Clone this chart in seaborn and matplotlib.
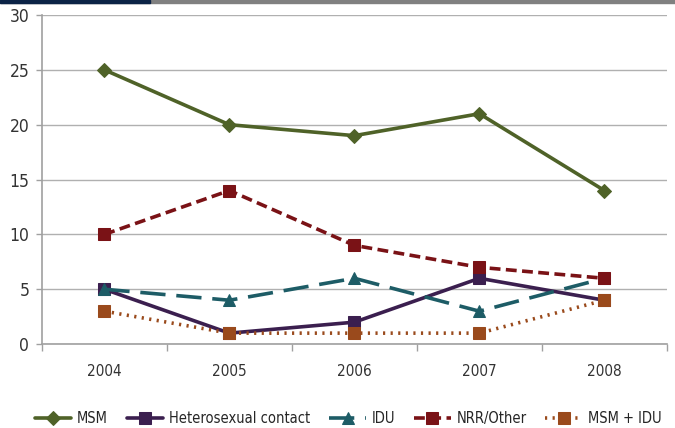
import seaborn as sns
import matplotlib.pyplot as plt
import matplotlib.patches as mpatches
import pandas as pd

years = ['2004', '2005', '2006', '2007', '2008']
msm = [25, 20, 19, 21, 14]
hetero = [5, 1, 2, 6, 4]
idu = [5, 4, 6, 3, 6]
nrr_other = [10, 14, 9, 7, 6]
msm_idu = [3, 1, 1, 1, 4]

series = [
    ('MSM', msm, '#4f6228', '-', 'D'),
    ('Heterosexual contact', hetero, '#3b1f4f', '-', 's'),
    ('IDU', idu, '#1d5c66', (0, (7, 3)), '^'),
    ('NRR/Other', nrr_other, '#7a1216', (0, (3, 1.5)), 's'),
    ('MSM + IDU', msm_idu, '#9a4a1c', (0, (0.6, 1.5)), 's'),
]


def main():
    sns.set_style('white')
    plt.rcParams['font.family'] = ['DejaVu Sans']
    plt.rcParams['font.stretch'] = 'condensed'
    fig = plt.figure(figsize=(6.75, 4.28), dpi=100)
    ax = fig.add_axes([0.062, 0.196, 0.926, 0.769])

    # top banner
    fig.patches.append(mpatches.Rectangle((0, 0.992), 1, 0.008, transform=fig.transFigure,
                                          color='#808080', zorder=0))
    fig.patches.append(mpatches.Rectangle((0, 0.992), 0.222, 0.008, transform=fig.transFigure,
                                          color='#0b2346', zorder=1))

    for name, vals, color, ls, mk in series:
        df = pd.DataFrame({'x': range(len(years)), 'y': vals})
        sns.lineplot(data=df, x='x', y='y', ax=ax, color=color, linestyle=ls, linewidth=2.6,
                     marker=mk, markersize=8 if mk != 'D' else 7, markeredgecolor=color,
                     markerfacecolor=color, label=name)

    ax.set_xlim(-0.5, len(years) - 0.5)
    ax.set_ylim(0, 30)
    ax.set_yticks(range(0, 31, 5))
    ax.set_xticks(range(len(years)))
    ax.set_xticklabels(years)
    ax.set_xticks([i - 0.5 for i in range(len(years) + 1)], minor=True)
    ax.tick_params(axis='x', which='major', bottom=False, length=0, pad=14, labelsize=11,
                   labelcolor='#333333')
    ax.tick_params(axis='x', which='minor', bottom=True, length=5, width=1, color='#a0a0a0',
                   direction='out')
    ax.tick_params(axis='y', left=True, length=4, width=1, color='#a0a0a0', labelsize=12.5,
                   labelcolor='#333333', pad=5)
    ax.grid(axis='y', color='#b0b0b0', linewidth=1)
    for s in ['top', 'right']:
        ax.spines[s].set_visible(False)
    for s in ['left', 'bottom']:
        ax.spines[s].set_color('#a0a0a0')
        ax.spines[s].set_linewidth(1.2)
    ax.set_xlabel('')
    ax.set_ylabel('')

    ax.legend(loc='center', bbox_to_anchor=(0.49, -0.225), ncol=5, frameon=False,
              handlelength=2.5, columnspacing=1.3, handletextpad=0.4,
              prop={'stretch': 'condensed', 'size': 10.5})
    plt.savefig('out.png', dpi=100)


if __name__ == '__main__':
    main()
